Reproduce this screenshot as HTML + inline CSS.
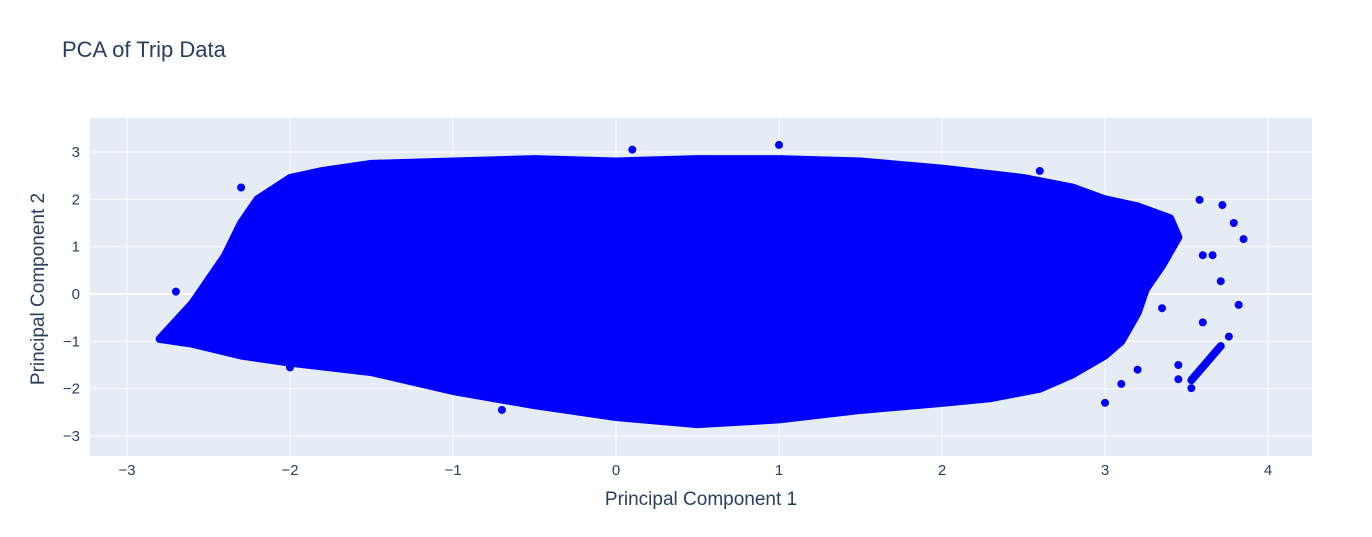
<!DOCTYPE html>
<html><head><meta charset="utf-8"><style>
body{margin:0;background:#fff;font-family:"Liberation Sans",sans-serif}
svg text{font-family:"Liberation Sans",sans-serif;fill:#2a3f5f}
</style></head><body>
<svg width="1372" height="532" xmlns="http://www.w3.org/2000/svg">
<text x="62" y="57" font-size="22">PCA of Trip Data</text>
<rect x="90" y="118" width="1222" height="338" fill="#e5ecf6"/>
<g id="grid"></g>
<g id="marks"></g>
<g id="ticks"></g>
<text x="701" y="505" font-size="19" text-anchor="middle">Principal Component 1</text>
<text x="44" y="289" font-size="19" text-anchor="middle" transform="rotate(-90 44 289)">Principal Component 2</text>
</svg>
<script>
const xTicks=[-3,-2,-1,0,1,2,3,4];
const yTicks=[-3,-2,-1,0,1,2,3];
const blobX=[-2.8,-2.6,-2.4,-2.3,-2.2,-2.0,-1.8,-1.5,-1.0,-0.5,0,0.5,1.0,1.5,2.0,2.5,2.8,3.0,3.2,3.4,3.45,3.35,3.25,3.2,3.1,3.0,2.8,2.6,2.3,2.0,1.5,1.0,0.5,0,-0.5,-1.0,-1.5,-2.0,-2.3,-2.6];
const blobY=[-0.95,-0.2,0.8,1.5,2.0,2.45,2.6,2.75,2.8,2.85,2.8,2.85,2.85,2.8,2.65,2.45,2.25,2.0,1.85,1.6,1.2,0.6,0.1,-0.4,-1.0,-1.3,-1.7,-2.0,-2.2,-2.3,-2.45,-2.65,-2.75,-2.6,-2.35,-2.05,-1.65,-1.45,-1.3,-1.05];
const outX=[3.58,3.72,3.85,3.79,3.6,3.66,3.71,3.82,3.6,3.76,3.45,3.45,3.53,0.1,1.0,3.2,3.0,3.1,3.35,-2.3,-2.7,-2.0,-0.7,2.6];
const outY=[1.99,1.88,1.16,1.5,0.82,0.82,0.27,-0.23,-0.6,-0.9,-1.5,-1.8,-1.99,3.05,3.15,-1.6,-2.3,-1.9,-0.3,2.25,0.05,-1.55,-2.45,2.6];
const chainX=[3.53,3.71];
const chainY=[-1.82,-1.1];
const X=v=>616+v*163, Y=v=>294-v*47.33;
const ns="http://www.w3.org/2000/svg";
const mk=(p,t,a)=>{const e=document.createElementNS(ns,t);for(const k in a)e.setAttribute(k,a[k]);document.getElementById(p).appendChild(e);return e;};
xTicks.forEach(t=>{
 const l=mk('grid','line',{x1:X(t),x2:X(t),y1:118,y2:456,stroke:'#fff','stroke-width':1});
 
 
 const tx=mk('ticks','text',{x:X(t),y:475,'font-size':15,'text-anchor':'middle'});
 tx.textContent=t<0?'\u2212'+(-t):t;
 
 
});
yTicks.forEach(t=>{
 const l=mk('grid','line',{x1:90,x2:1312,y1:Y(t),y2:Y(t),stroke:'#fff','stroke-width':t==0?2:1});
 
 
 const tx=mk('ticks','text',{x:80,y:Y(t)+5,'font-size':15,'text-anchor':'end'});
 tx.textContent=t<0?'\u2212'+(-t):t;
 
 
});
const d=blobX.map((v,i)=>(i?'L':'M')+X(v)+' '+Y(blobY[i])).join(' ')+'Z';
const b=mk('marks','path',{d:d,fill:'#0000ff',stroke:'#0000ff','stroke-width':8,'stroke-linejoin':'round'});


const c=mk('marks','line',{x1:X(chainX[0]),y1:Y(chainY[0]),x2:X(chainX[1]),y2:Y(chainY[1]),stroke:'#0000ff','stroke-width':8,'stroke-linecap':'round'});


outX.forEach((v,i)=>{
 const p=mk('marks','circle',{cx:X(v),cy:Y(outY[i]),r:4,fill:'#0000ff'});
 
 
});
</script>
</body></html>
